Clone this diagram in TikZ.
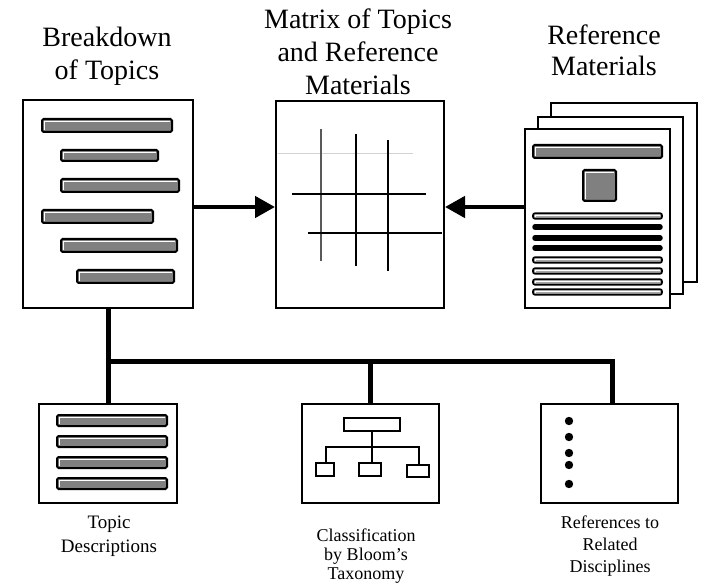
\documentclass[tikz,border=0pt]{standalone}
\usepackage{fontspec}
\setmainfont{Liberation Serif}
\usetikzlibrary{arrows.meta}
\definecolor{barg}{RGB}{128,128,128}
\newcommand\gbar[4]{%
  \draw[barbox] (#1,#2) rectangle (#3,#4);
  \draw[white,line width=1pt] ([shift={(2.3,-2.3)}]#1,#4) -- ([shift={(2.3,2.3)}]#1,#2) -- ([shift={(-2.3,2.3)}]#3,#2);}
\newcommand\obar[1]{%
  \draw[line width=1.6pt, fill=barg!70, rounded corners=2pt] (533,#1-2.8) rectangle (662,#1+2.8);
  \draw[white,line width=0.7pt] (535,#1+1) -- (535,#1-1) -- (660,#1-1);}
\newcommand\kbar[1]{\draw[line width=5.5pt, line cap=round] (535,#1) -- (660,#1);}
\begin{document}
\begin{tikzpicture}[x=1pt,y=-1pt,
  box/.style={draw, line width=2pt, fill=white, inner sep=0pt, rectangle},
  barbox/.style={draw, line width=2pt, fill=barg, rounded corners=1.5pt},
  arr/.style={line width=4.5pt, -{Triangle[length=20pt,width=21pt]}},
  bus/.style={line width=5pt, line join=miter},
  title/.style={font=\fontsize{28}{33}\selectfont, align=center, anchor=base},
  lab/.style={font=\fontsize{19}{24}\selectfont, align=center, anchor=base},
  thin/.style={line width=2pt}]
\useasboundingbox (0,0) rectangle (718,588);
% titles
\node[title] (t1) at (107,80) {Breakdown\\of Topics};
\node[title] (t2) at (358,95) {Matrix of Topics\\and Reference\\Materials};
\node[title, font=\fontsize{28}{31}\selectfont] (t3) at (604,76) {Reference\\Materials};
% breakdown box
\node[box, minimum width=170pt, minimum height=208pt] (brk) at (108,204) {};
\gbar{42}{119}{172}{132}
\gbar{61}{150}{158}{161}
\gbar{61}{179}{179}{192}
\gbar{42}{210}{153}{223}
\gbar{61}{239}{177}{252}
\gbar{77}{270}{174}{283}
% matrix box
\node[box, minimum width=168pt, minimum height=207pt] (mat) at (360,204.5) {};
\draw[gray!35, line width=0.6pt] (278,153) -- (413,153);
\draw[gray!70!black, line width=1.2pt] (321,129) -- (321,261);
\draw[line width=1.2pt] (356,134) -- (356,266);
\draw[line width=2.4pt] (388,140) -- (388,271);
\draw[line width=2.4pt] (292,194) -- (426,194);
\draw[line width=2pt] (308,233) -- (442,233);
% reference stack
\node[box, minimum width=146pt, minimum height=179pt] (p3) at (624,192.5) {};
\node[box, minimum width=145pt, minimum height=177pt] (p2) at (610.5,205.5) {};
\node[box, minimum width=145pt, minimum height=179pt] (ref) at (597.5,218.5) {};
\gbar{533}{145}{662}{158}
\gbar{583}{170}{616}{201}
\obar{216}
\kbar{227}
\kbar{238}
\kbar{248}
\obar{260}
\obar{271}
\obar{282}
\obar{292}
% arrows
\coordinate (ay) at (0,207);
\draw[arr] (brk.east|-ay) -- (mat.west|-ay);
\draw[arr] (ref.west|-ay) -- (mat.east|-ay);
% lower boxes
\node[box, minimum width=138pt, minimum height=99pt] (td) at (108,453.5) {};
\gbar{57}{415}{167}{426}
\gbar{57}{436}{167}{447}
\gbar{57}{457}{167}{468}
\gbar{57}{478}{167}{489}
\node[box, minimum width=137pt, minimum height=99pt] (bt) at (370.5,453.5) {};
\draw[thin] (344,418) rectangle (400,431);
\draw[thin] (372,431) -- (372,463);
\draw[thin] (326,463) |- (419,447) -- (419,465);
\draw[thin] (316,463) rectangle (334,476);
\draw[thin] (359,463) rectangle (381,476);
\draw[thin] (407,465) rectangle (429,477);
\node[box, minimum width=137pt, minimum height=99pt] (rd) at (609.5,453.5) {};
\foreach \yy in {421,437,453,465,484} \fill (569,\yy) circle (4.2);
% bus
\coordinate (busy) at (0,361);
\draw[bus] (brk.south) -- (td.north);
\draw[bus] (brk.south|-busy) -| ([xshift=2.5pt]rd.north);
\draw[bus] (bt.north|-busy) -- (bt.north);
% labels
\node[lab] (l1) at (109,552) {Topic\\Descriptions};
\node[lab, font=\fontsize{18}{19}\selectfont] (l2) at (366,579) {Classification\\by Bloom's\\Taxonomy};
\node[lab, font=\fontsize{18}{22}\selectfont] (l3) at (610,572) {References to\\Related\\Disciplines};
\end{tikzpicture}
\end{document}
